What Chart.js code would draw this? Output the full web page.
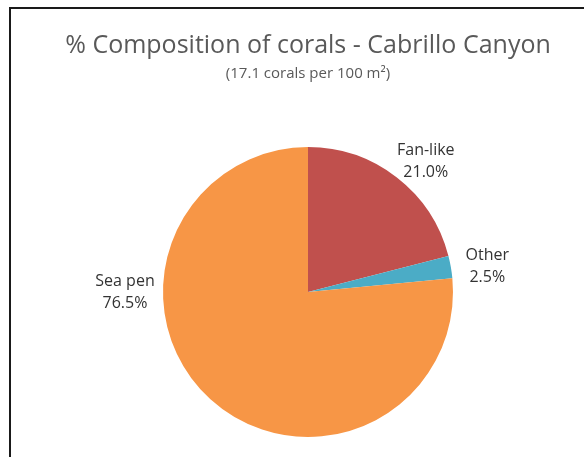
<!DOCTYPE html>
<html>
<head>
<meta charset="utf-8">
<script src="https://cdn.jsdelivr.net/npm/chart.js@4.4.0/dist/chart.umd.min.js"></script>
<style>
  html, body { margin: 0; padding: 0; background: #fff; }
  #wrap { width: 584px; height: 457px; }
</style>
</head>
<body>
<div id="wrap"><canvas id="coralChart"></canvas></div>
<script>
// coral composition, Cabrillo Canyon
const categories = ['Fan-like', 'Other', 'Sea pen'];
const percentages = [21.0, 2.5, 76.5];
const sliceColors = ['#C0504D', '#4BACC6', '#F79646'];

// label placement: direction in degrees (0 = right, clockwise) and distance beyond the rim
const labelAngles = [-48, -8, 180];
const labelGaps = [31, 36, 38];

const FONT = '"Open Sans", sans-serif';

const frame = {
  id: 'frame',
  beforeDraw(chart) {
    const ctx = chart.ctx;
    ctx.save();
    ctx.strokeStyle = '#1a1a1a';
    ctx.lineWidth = 2;
    ctx.beginPath();
    ctx.moveTo(10, chart.height);
    ctx.lineTo(10, 8);
    ctx.lineTo(chart.width, 8);
    ctx.stroke();
    ctx.restore();
  }
};

const sliceLabels = {
  id: 'sliceLabels',
  afterDraw(chart) {
    const ctx = chart.ctx;
    const meta = chart.getDatasetMeta(0);
    ctx.save();
    ctx.font = '16px ' + FONT;
    ctx.fillStyle = '#333333';
    ctx.textAlign = 'center';
    ctx.textBaseline = 'middle';
    meta.data.forEach((arc, i) => {
      const p = arc.getProps(['x', 'y', 'outerRadius'], true);
      const a = labelAngles[i] * Math.PI / 180;
      const d = p.outerRadius + labelGaps[i];
      const lx = p.x + Math.cos(a) * d;
      const ly = p.y + Math.sin(a) * d;
      ctx.fillText(categories[i], lx, ly - 11);
      ctx.fillText(percentages[i].toFixed(1) + '%', lx, ly + 11);
    });
    ctx.restore();
  }
};

new Chart(document.getElementById('coralChart'), {
  type: 'pie',
  data: {
    labels: categories,
    datasets: [{
      data: percentages,
      backgroundColor: sliceColors,
      borderWidth: 0
    }]
  },
  options: {
    responsive: true,
    maintainAspectRatio: false,
    animation: false,
    layout: {
      padding: { top: 20, bottom: 20, left: 32, right: 0 }
    },
    plugins: {
      legend: { display: false },
      tooltip: { enabled: false },
      title: {
        display: true,
        text: '% Composition of corals - Cabrillo Canyon',
        color: '#595959',
        font: { family: FONT, size: 25, weight: 'normal' },
        padding: { top: 11, bottom: 0 }
      },
      subtitle: {
        display: true,
        text: '(17.1 corals per 100 m\u00B2)',
        color: '#595959',
        font: { family: FONT, size: 15, weight: 'normal' },
        padding: { top: 4, bottom: 64 }
      }
    }
  },
  plugins: [frame, sliceLabels]
});
</script>
</body>
</html>
